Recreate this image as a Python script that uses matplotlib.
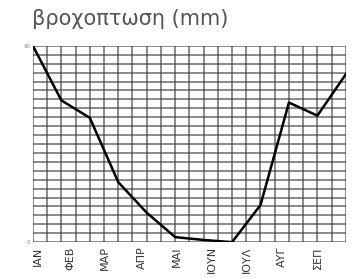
import matplotlib.pyplot as plt
import numpy as np

months = list(range(12))
rain = [90, 65, 57, 27.5, 13.5, 2.3, 1, 0, 17, 64, 58, 77]
tick_pos = [0.17, 1.3, 2.53, 3.83, 5.06, 6.29, 7.52, 8.75, 10.0]
tick_labels = ["ΙΑΝ", "ΦΕΒ", "ΜΑΡ", "ΑΠΡ", "ΜΑΙ", "ΙΟΥΝ", "ΙΟΥΛ", "ΑΥΓ", "ΣΕΠ"]

plt.rcParams["font.family"] = ["DejaVu Sans"]

fig = plt.figure(figsize=(3.58, 2.78), dpi=100)
ax = fig.add_axes([0.092, 0.129, 0.874, 0.706])

# grid paper
for gx in np.linspace(0, 11, 23):
    ax.axvline(gx, color="#3a3a3a", lw=1.1, alpha=0.75, zorder=1)
for gy in np.linspace(0, 90, 23):
    ax.axhline(gy, color="#3a3a3a", lw=1.1, alpha=0.75, zorder=1)

ax.plot(months, rain, color="black", lw=1.8, zorder=3, solid_joinstyle="round")

ax.set_xlim(0, 11)
ax.set_ylim(0, 90)
for s in ax.spines.values():
    s.set_visible(False)

ax.set_yticks([0, 90])
ax.set_yticklabels(["0", "90"], fontsize=4, color="#888888")
ax.tick_params(axis="y", length=0, pad=2)
ax.set_xticks(tick_pos)
ax.set_xticklabels(tick_labels, rotation=90, fontsize=8, color="#333333")
ax.tick_params(axis="x", length=0, pad=3)

fig.text(0.09, 0.93, "βροχοπτωση (mm)", fontsize=15, color="#555555",
         ha="left", va="center")

fig.savefig("out.png", dpi=100)
